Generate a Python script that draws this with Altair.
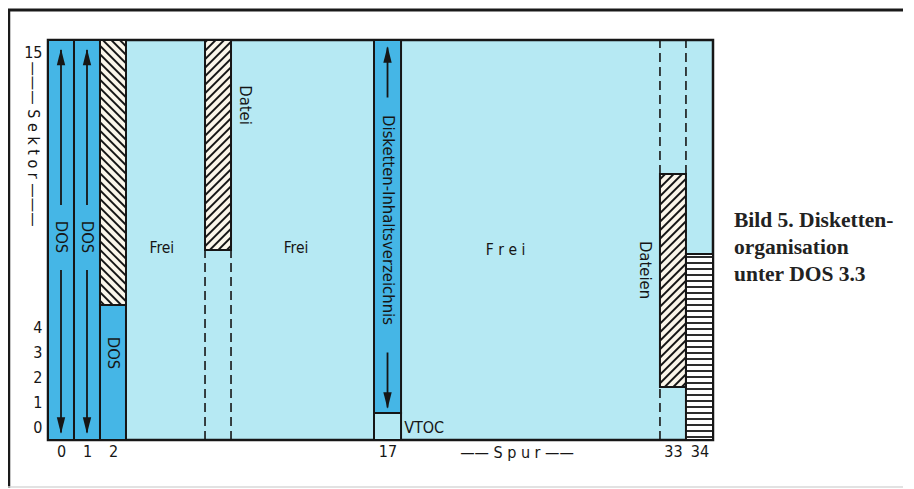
import altair as alt
import numpy as np
import pandas as pd

# ---------------- data ----------------
# x in "track slot" units (plot spans 0..25.58), y in sector units (0..16)
track_labels = ["0", "1", "2", "17", "33", "34"]
track_center = [0.5, 1.5, 2.5, 13.06, 24.04, 25.06]

blk_name = ["t0", "t1", "t2dos", "t2file", "datei", "dir17", "vtoc", "dat33", "t34"]
blk_x0 = [0, 1, 2, 2, 6.04, 12.54, 12.54, 23.54, 24.54]
blk_x1 = [1, 2, 3, 3, 7.04, 13.58, 13.58, 24.54, 25.58]
blk_y0 = [0, 0, 0, 5.4, 7.6, 1.08, 0, 2.12, 0]
blk_y1 = [16, 16, 5.4, 16, 16, 16, 1.08, 10.64, 7.44]
blk_kind = ["dos", "dos", "dos", "back", "fwd", "dos", "frei", "fwd", "stripe"]

dash_x = [6.04, 7.04, 23.54, 24.54, 23.54]
dash_y0 = [0, 0, 10.64, 10.64, 0]
dash_y1 = [7.6, 7.6, 16, 16, 2.12]

arrow_x = [0.5, 0.5, 1.5, 1.5, 13.06, 13.06]
arrow_from = [9.4, 6.8, 9.4, 6.8, 13.7, 3.5]
arrow_to = [15.6, 0.3, 15.6, 0.3, 15.7, 1.3]

# rotated labels
rot_text = ["DOS", "DOS", "DOS", "Datei", "Disketten-Inhaltsverzeichnis", "Dateien"]
rot_x = [0.5, 1.5, 2.5, 7.58, 13.06, 22.96]
rot_y = [8.12, 8.12, 3.48, 13.4, 8.8, 6.8]

# horizontal labels
hor_text = ["Frei", "Frei", "F r e i"]
hor_x = [4.38, 9.54, 17.6]
hor_y = [7.68, 7.68, 7.6]

y_label_values = [0.5, 1.5, 2.5, 3.5, 4.5, 15.5]

caption_lines = ["Bild 5. Disketten-", "organisation", "unter DOS 3.3"]

# ---------------- layout / style ----------------
W, H = 665, 400
XMAX, YMAX = 25.58, 16
KX, KY = W / XMAX, H / YMAX
DARK = "#45b6e6"
LIGHT = "#b6e9f3"
CREAM = "#fbf6ea"
INK = "#161616"
FONT = "Liberation Sans Narrow, DejaVu Sans Condensed, sans-serif"

xs = alt.Scale(domain=[0, XMAX], nice=False, zero=False)
ys = alt.Scale(domain=[0, YMAX], nice=False, zero=False)

blocks = pd.DataFrame(dict(name=blk_name, x0=blk_x0, x1=blk_x1,
                           y0=blk_y0, y1=blk_y1, kind=blk_kind))


# hatch segments derived from the block extents (decoration only)
def hatch(x0, x1, y0, y1, kind, step):
    w, h = (x1 - x0) * KX, (y1 - y0) * KY
    segs = []
    if kind == "stripe":
        for y in np.arange(step / 2, h, step):
            segs.append((0, y, w, y))
    elif kind == "fwd":
        for c in np.arange(-w + step / 2, h, step):
            a, b = max(0, -c), min(w, h - c)
            if a < b:
                segs.append((a, a + c, b, b + c))
    elif kind == "back":
        for c in np.arange(step / 2, w + h, step):
            a, b = max(0, c - h), min(w, c)
            if a < b:
                segs.append((a, c - a, b, c - b))
    return [dict(x=x0 + s[0] / KX, y=y0 + s[1] / KY,
                 x2=x0 + s[2] / KX, y2=y0 + s[3] / KY, kind=kind) for s in segs]


hrows = []
for r in blocks.itertuples():
    if r.kind in ("fwd", "back"):
        hrows += hatch(r.x0, r.x1, r.y0, r.y1, r.kind, 8.5)
    elif r.kind == "stripe":
        hrows += hatch(r.x0, r.x1, r.y0, r.y1, r.kind, 6.0)
hatch_df = pd.DataFrame(hrows)

fill_scale = alt.Scale(domain=["dos", "frei", "fwd", "back", "stripe"],
                       range=[DARK, LIGHT, CREAM, CREAM, "#ffffff"])

fills = alt.Chart(blocks).mark_rect(strokeWidth=0).encode(
    x=alt.X("x0:Q", scale=xs, axis=alt.Axis(
        values=track_center, domain=False, ticks=False, grid=False, title=None,
        labelExpr=" : ".join(
            f"datum.value < {c + 0.3} ? '{t}'" for t, c in
            zip(track_labels[:-1], track_center[:-1])) + f" : '{track_labels[-1]}'",
        labelFont=FONT, labelFontSize=16, labelColor=INK, labelPadding=3)),
    x2="x1:Q",
    y=alt.Y("y0:Q", scale=ys, axis=alt.Axis(
        values=y_label_values, labelExpr="floor(datum.value)",
        domain=False, ticks=False, grid=False, title=None,
        labelFont=FONT, labelFontSize=16, labelColor=INK, labelPadding=6)),
    y2="y1:Q",
    fill=alt.Fill("kind:N", scale=fill_scale, legend=None),
)

hatch_lines = alt.Chart(hatch_df).mark_rule(color=INK, strokeWidth=1.8).encode(
    x=alt.X("x:Q", scale=xs), y=alt.Y("y:Q", scale=ys), x2="x2:Q", y2="y2:Q")

borders = alt.Chart(blocks).mark_rect(
    fillOpacity=0, stroke=INK, strokeWidth=2).encode(
    x=alt.X("x0:Q", scale=xs), x2="x1:Q", y=alt.Y("y0:Q", scale=ys), y2="y1:Q")

dashes = alt.Chart(pd.DataFrame(dict(x=dash_x, y0=dash_y0, y1=dash_y1))).mark_rule(
    color=INK, strokeWidth=1.6, strokeDash=[9, 5]).encode(
    x=alt.X("x:Q", scale=xs), y=alt.Y("y0:Q", scale=ys), y2="y1:Q")

arrows = pd.DataFrame(dict(x=arrow_x, a=arrow_from, b=arrow_to))
arrows["up"] = arrows["b"] > arrows["a"]
arrows["head"] = arrows["b"] - np.where(arrows["up"], 0.28, -0.28)

shafts = alt.Chart(arrows).mark_rule(color=INK, strokeWidth=1.8).encode(
    x=alt.X("x:Q", scale=xs), y=alt.Y("a:Q", scale=ys), y2="b:Q")
heads_up = alt.Chart(arrows).transform_filter("datum.up").mark_point(
    shape="M0,-1L0.5,1L-0.5,1Z", filled=True, color=INK, size=280, opacity=1,
    strokeWidth=0).encode(
    x=alt.X("x:Q", scale=xs), y=alt.Y("head:Q", scale=ys))
heads_dn = alt.Chart(arrows).transform_filter("!datum.up").mark_point(
    shape="M0,1L0.5,-1L-0.5,-1Z", filled=True, color=INK, size=280, opacity=1,
    strokeWidth=0).encode(
    x=alt.X("x:Q", scale=xs), y=alt.Y("head:Q", scale=ys))

rot = alt.Chart(pd.DataFrame(dict(t=rot_text, x=rot_x, y=rot_y))).mark_text(
    font=FONT, fontSize=16.5, color=INK, angle=90,
    align="center", baseline="middle").encode(
    x=alt.X("x:Q", scale=xs), y=alt.Y("y:Q", scale=ys), text="t:N")

hor = alt.Chart(pd.DataFrame(dict(t=hor_text, x=hor_x, y=hor_y))).mark_text(
    font=FONT, fontSize=15.5, color=INK, align="center", baseline="middle").encode(
    x=alt.X("x:Q", scale=xs), y=alt.Y("y:Q", scale=ys), text="t:N")

vtoc = alt.Chart(pd.DataFrame(dict(t=["VTOC"], x=[13.7], y=[0.48]))).mark_text(
    font=FONT, fontSize=16, color=INK, align="left", baseline="middle").encode(
    x=alt.X("x:Q", scale=xs), y=alt.Y("y:Q", scale=ys), text="t:N")

one = pd.DataFrame(dict(a=[0]))
sektor = alt.Chart(one).mark_text(font=FONT, fontSize=16, color=INK, angle=90,
                                  align="center", baseline="middle").encode(
    x=alt.value(-15), y=alt.value(104), text=alt.value("——— S e k t o r ———"))
spur = alt.Chart(one).mark_text(font=FONT, fontSize=16, color=INK,
                                align="center", baseline="middle").encode(
    x=alt.value(469), y=alt.value(413), text=alt.value("—— S p u r ——"))

cap_layers = []
for line, yy in zip(caption_lines, [181, 208, 235]):
    cap_layers.append(alt.Chart(one).mark_text(
        font="Liberation Serif, DejaVu Serif, serif", fontWeight="bold", fontSize=21.5,
        color="#222", align="left", baseline="middle").encode(
        x=alt.value(686), y=alt.value(yy), text=alt.value(line)))

frame_top = alt.Chart(one).mark_rule(color="#1a1a1a", strokeWidth=3).encode(
    x=alt.value(-41), x2=alt.value(880), y=alt.value(-30))
frame_left = alt.Chart(one).mark_rule(color="#1a1a1a", strokeWidth=2.5).encode(
    x=alt.value(-39), y=alt.value(-31), y2=alt.value(448))
frame_bottom = alt.Chart(one).mark_rule(color="#d8d8d8", strokeWidth=1.5).encode(
    x=alt.value(-40), x2=alt.value(880), y=alt.value(447))

chart = alt.layer(
    fills, hatch_lines, borders, dashes, shafts, heads_up, heads_dn,
    rot, hor, vtoc, sektor, spur, *cap_layers, frame_top, frame_left, frame_bottom,
).properties(
    width=W, height=H,
    autosize=alt.AutoSizeParams(type="none"),
    padding={"left": 40, "top": 32, "right": 190, "bottom": 49},
    background="white",
).configure_view(fill=LIGHT, stroke=INK, strokeWidth=2.5)

chart.save("out.html", embed_options={"renderer": "svg", "actions": False})
